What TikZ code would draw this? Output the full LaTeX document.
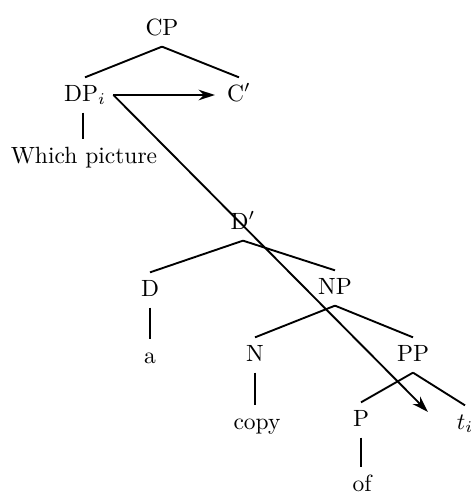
\documentclass[tikz,border=0pt]{standalone}
\usepackage{amsmath}
\usepackage{tikz}
\usetikzlibrary{arrows.meta}
\tikzset{
    tree-node/.style = {inner sep=3pt, text height=1.6ex, text depth=.4ex},
    tree-edge/.style = {line width=0.8pt},
    move-arrow/.style = {line width=0.8pt, -{Stealth[length=7pt, width=4.5pt]}},
}

\begin{document}
\begin{tikzpicture}[x=0.4255pt, y=-0.4255pt]
\useasboundingbox (0,0) rectangle (475,493);
\node[tree-node] (cp) at (162,29) {CP};
\node[tree-node] (dp) at (85,95) {DP$_i$};
\node[tree-node] (cbar) at (239,95) {C$'$};
\node[tree-node] (which) at (84,157) {Which picture};
\node[tree-node] (dbar) at (243,223) {D$'$};
\node[tree-node] (d) at (150,290) {D};
\node[tree-node] (a) at (150,357) {a};
\node[tree-node] (np) at (335,288) {NP};
\node[tree-node] (n) at (255,355) {N};
\node[tree-node] (copy) at (257,423) {copy};
\node[tree-node] (pp) at (413,355) {PP};
\node[tree-node] (p) at (361,420) {P};
\node[tree-node] (of) at (362,485) {of};
\node[tree-node] (t) at (465,423) {$t_i$};
\coordinate (t-end) at (428,412);
\coordinate (dp-foot) at ([xshift=-1pt]dp.south);

\draw[tree-edge] (cp.south) -- (dp.north);
\draw[tree-edge] (cp.south) -- (cbar.north);
\draw[tree-edge] (dp-foot) -- (dp-foot |- which.north);
\draw[tree-edge] (dbar.south) -- (d.north);
\draw[tree-edge] (dbar.south) -- (np.north);
\draw[tree-edge] (d.south) -- (a.north);
\draw[tree-edge] (np.south) -- (n.north);
\draw[tree-edge] (np.south) -- (pp.north);
\draw[tree-edge] (n.south) -- (n.south |- copy.north);
\draw[tree-edge] (pp.south) -- (p.north);
\draw[tree-edge] (pp.south) -- (t.north);
\draw[tree-edge] (p.south) -- (p.south |- of.north);

\draw[move-arrow, shorten >=2pt] (dp.east) -- (cbar.west);
\draw[move-arrow] (dp.east) -- (t-end);
\end{tikzpicture}
\end{document}
